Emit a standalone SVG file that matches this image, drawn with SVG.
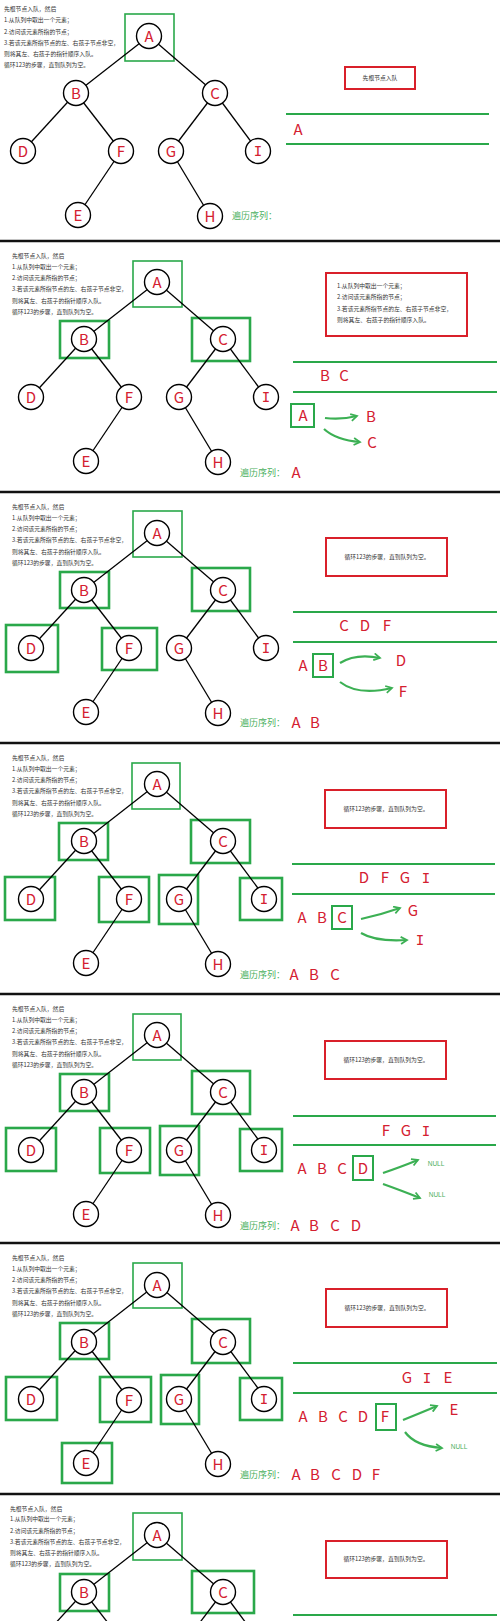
<svg xmlns="http://www.w3.org/2000/svg" width="500" height="1621" viewBox="0 0 500 1621">
<style>
.dv{stroke:#111;stroke-width:2.5}
.e line{stroke:#000;stroke-width:1.3}
.n circle{fill:#fff;stroke:#000;stroke-width:1.4}
.n text,.r{font-family:"Noto Sans CJK SC","Liberation Sans",sans-serif;font-size:15px;fill:#d42030;text-anchor:middle}
.n text.i,.r.i{font-family:"DejaVu Sans Mono",monospace;font-size:14px}
.gb{fill:none;stroke:#2aa84a;stroke-width:2.6}
.ga{fill:none;stroke:#2aa84a;stroke-width:1.6}
.q{stroke:#2aa84a;stroke-width:2}
.rb{fill:none;stroke:#d9202a;stroke-width:2}
.t{font-family:"Noto Sans CJK SC",sans-serif;font-size:5.8px;fill:#333}
.tc{font-family:"Noto Sans CJK SC",sans-serif;font-size:5.8px;fill:#333;text-anchor:middle}
.sq{font-family:"Noto Sans CJK SC",sans-serif;font-size:9px;fill:#4cb060}
.nl{font-family:"Liberation Sans",sans-serif;font-size:6.5px;fill:#4cb060;text-anchor:middle}
.ar{fill:none;stroke:#3cb054;stroke-width:2.2;marker-end:url(#ah)}
</style>
<defs>
<marker id="ah" viewBox="0 0 10 10" refX="8" refY="5" markerWidth="4" markerHeight="4" orient="auto" markerUnits="strokeWidth"><path d="M1,1 L8,5 L1,9" fill="none" stroke="#3cb054" stroke-width="2"/></marker>
</defs>
<rect width="500" height="1621" fill="#fff"/>
<g id="dividers">
<line class="dv" x1="0" y1="241" x2="500" y2="241"/>
<line class="dv" x1="0" y1="492" x2="500" y2="492"/>
<line class="dv" x1="0" y1="743" x2="500" y2="743"/>
<line class="dv" x1="0" y1="994" x2="500" y2="994"/>
<line class="dv" x1="0" y1="1243" x2="500" y2="1243"/>
<line class="dv" x1="0" y1="1494" x2="500" y2="1494"/>
</g>

<!-- Panel 1 -->
<g id="p1" transform="translate(-8,-5)">
<g class="t"><text x="12" y="16">先根节点入队，然后</text><text x="12" y="27">1.从队列中取出一个元素；</text><text x="12" y="39">2.访问该元素所指的节点；</text><text x="12" y="50">3.若该元素所指节点的左、右孩子节点非空，</text><text x="12" y="61">则将其左、右孩子的指针顺序入队。</text><text x="12" y="72">循环123的步骤，直到队列为空。</text></g>
<rect class="ga" x="133" y="19" width="49" height="47"/>
<g id="p1-edges" class="e"><line x1="157" y1="41" x2="84" y2="98"/><line x1="157" y1="41" x2="223" y2="98"/><line x1="84" y1="98" x2="31" y2="156"/><line x1="84" y1="98" x2="129" y2="156"/><line x1="223" y1="98" x2="179" y2="156"/><line x1="223" y1="98" x2="266" y2="156"/><line x1="129" y1="156" x2="86" y2="220"/><line x1="179" y1="156" x2="218" y2="221"/></g>
<g id="p1-A" class="n"><circle cx="157" cy="41" r="12.5"/><text x="157" y="46.5">A</text></g>
<g id="p1-B" class="n"><circle cx="84" cy="98" r="12.5"/><text x="84" y="103.5">B</text></g>
<g id="p1-C" class="n"><circle cx="223" cy="98" r="12.5"/><text x="223" y="103.5">C</text></g>
<g id="p1-D" class="n"><circle cx="31" cy="156" r="12.5"/><text x="31" y="161.5">D</text></g>
<g id="p1-F" class="n"><circle cx="129" cy="156" r="12.5"/><text x="129" y="161.5">F</text></g>
<g id="p1-G" class="n"><circle cx="179" cy="156" r="12.5"/><text x="179" y="161.5">G</text></g>
<g id="p1-I" class="n"><circle cx="266" cy="156" r="12.5"/><text class="i" x="266" y="161">I</text></g>
<g id="p1-E" class="n"><circle cx="86" cy="220" r="12.5"/><text x="86" y="225.5">E</text></g>
<g id="p1-H" class="n"><circle cx="218" cy="221" r="12.5"/><text x="218" y="226.5">H</text></g>
</g>
<g id="p1-right">
<rect class="rb" x="345" y="67" width="70" height="22"/>
<text class="tc" x="380" y="80">先根节点入队</text>
<line class="q" x1="286" y1="114" x2="489" y2="114"/><line class="q" x1="286" y1="144" x2="489" y2="144"/>
<text class="r" x="298" y="135">A</text>
<text class="sq" x="232" y="219">遍历序列：</text>
</g>

<!-- Panel 2 -->
<g id="p2" transform="translate(0,241)">
<g class="t"><text x="12" y="17">先根节点入队，然后</text><text x="12" y="28">1.从队列中取出一个元素；</text><text x="12" y="39">2.访问该元素所指的节点；</text><text x="12" y="50">3.若该元素所指节点的左、右孩子节点非空，</text><text x="12" y="62">则将其左、右孩子的指针顺序入队。</text><text x="12" y="73">循环123的步骤，直到队列为空。</text></g>
<rect class="ga" x="133" y="20" width="49" height="46"/>
<rect class="gb" x="60" y="80" width="49" height="37"/>
<rect class="gb" x="192" y="77" width="58" height="43"/>
<g id="p2-edges" class="e"><line x1="157" y1="41" x2="84" y2="98"/><line x1="157" y1="41" x2="223" y2="98"/><line x1="84" y1="98" x2="31" y2="156"/><line x1="84" y1="98" x2="129" y2="156"/><line x1="223" y1="98" x2="179" y2="156"/><line x1="223" y1="98" x2="266" y2="156"/><line x1="129" y1="156" x2="86" y2="220"/><line x1="179" y1="156" x2="218" y2="221"/></g>
<g id="p2-A" class="n"><circle cx="157" cy="41" r="12.5"/><text x="157" y="46.5">A</text></g>
<g id="p2-B" class="n"><circle cx="84" cy="98" r="12.5"/><text x="84" y="103.5">B</text></g>
<g id="p2-C" class="n"><circle cx="223" cy="98" r="12.5"/><text x="223" y="103.5">C</text></g>
<g id="p2-D" class="n"><circle cx="31" cy="156" r="12.5"/><text x="31" y="161.5">D</text></g>
<g id="p2-F" class="n"><circle cx="129" cy="156" r="12.5"/><text x="129" y="161.5">F</text></g>
<g id="p2-G" class="n"><circle cx="179" cy="156" r="12.5"/><text x="179" y="161.5">G</text></g>
<g id="p2-I" class="n"><circle cx="266" cy="156" r="12.5"/><text class="i" x="266" y="161">I</text></g>
<g id="p2-E" class="n"><circle cx="86" cy="220" r="12.5"/><text x="86" y="225.5">E</text></g>
<g id="p2-H" class="n"><circle cx="218" cy="221" r="12.5"/><text x="218" y="226.5">H</text></g>
</g>
<g id="p2-right">
<rect class="rb" x="326" y="273" width="141" height="63"/>
<g class="t"><text x="337" y="288">1.从队列中取出一个元素；</text><text x="337" y="299">2.访问该元素所指的节点；</text><text x="337" y="311">3.若该元素所指节点的左、右孩子节点非空，</text><text x="337" y="322">则将其左、右孩子的指针顺序入队。</text></g>
<line class="q" x1="293" y1="362" x2="497" y2="362"/><line class="q" x1="293" y1="392" x2="497" y2="392"/>
<text class="r" x="325" y="381">B</text><text class="r" x="344" y="381">C</text>
<rect class="ga" x="291" y="404" width="23" height="23" style="stroke-width:2"/>
<text class="r" x="303" y="421">A</text>
<path class="ar" d="M325,418 Q341,420 357,416"/>
<path class="ar" d="M324,429 Q336,440 360,442"/>
<text class="r" x="371" y="422">B</text><text class="r" x="372" y="448">C</text>
<text class="sq" x="240" y="476">遍历序列：</text>
<text class="r" x="296" y="478">A</text>
</g>

<!-- Panel 3 -->
<g id="p3" transform="translate(0,492)">
<g class="t"><text x="12" y="17">先根节点入队，然后</text><text x="12" y="28">1.从队列中取出一个元素；</text><text x="12" y="39">2.访问该元素所指的节点；</text><text x="12" y="50">3.若该元素所指节点的左、右孩子节点非空，</text><text x="12" y="62">则将其左、右孩子的指针顺序入队。</text><text x="12" y="73">循环123的步骤，直到队列为空。</text></g>
<rect class="ga" x="133" y="19" width="49" height="46"/>
<rect class="gb" x="60" y="80" width="49" height="36"/>
<rect class="gb" x="192" y="76" width="58" height="43"/>
<rect class="gb" x="6" y="133" width="52" height="47"/>
<rect class="gb" x="102" y="136" width="55" height="42"/>
<g id="p3-edges" class="e"><line x1="157" y1="41" x2="84" y2="98"/><line x1="157" y1="41" x2="223" y2="98"/><line x1="84" y1="98" x2="31" y2="156"/><line x1="84" y1="98" x2="129" y2="156"/><line x1="223" y1="98" x2="179" y2="156"/><line x1="223" y1="98" x2="266" y2="156"/><line x1="129" y1="156" x2="86" y2="220"/><line x1="179" y1="156" x2="218" y2="221"/></g>
<g id="p3-A" class="n"><circle cx="157" cy="41" r="12.5"/><text x="157" y="46.5">A</text></g>
<g id="p3-B" class="n"><circle cx="84" cy="98" r="12.5"/><text x="84" y="103.5">B</text></g>
<g id="p3-C" class="n"><circle cx="223" cy="98" r="12.5"/><text x="223" y="103.5">C</text></g>
<g id="p3-D" class="n"><circle cx="31" cy="156" r="12.5"/><text x="31" y="161.5">D</text></g>
<g id="p3-F" class="n"><circle cx="129" cy="156" r="12.5"/><text x="129" y="161.5">F</text></g>
<g id="p3-G" class="n"><circle cx="179" cy="156" r="12.5"/><text x="179" y="161.5">G</text></g>
<g id="p3-I" class="n"><circle cx="266" cy="156" r="12.5"/><text class="i" x="266" y="161">I</text></g>
<g id="p3-E" class="n"><circle cx="86" cy="220" r="12.5"/><text x="86" y="225.5">E</text></g>
<g id="p3-H" class="n"><circle cx="218" cy="221" r="12.5"/><text x="218" y="226.5">H</text></g>
</g>
<g id="p3-right">
<rect class="rb" x="326" y="538" width="121" height="38"/>
<text class="tc" x="387" y="559">循环123的步骤，直到队列为空。</text>
<line class="q" x1="293" y1="612" x2="497" y2="612"/><line class="q" x1="293" y1="642" x2="497" y2="642"/>
<text class="r" x="344" y="631">C</text><text class="r" x="365" y="631">D</text><text class="r" x="387" y="631">F</text>
<text class="r" x="303" y="671">A</text>
<rect class="ga" x="313" y="654" width="20" height="23" style="stroke-width:2"/>
<text class="r" x="323" y="671">B</text>
<path class="ar" d="M340,663 Q356,653 380,658"/>
<path class="ar" d="M340,682 Q358,696 392,688"/>
<text class="r" x="401" y="666">D</text><text class="r" x="403" y="697">F</text>
<text class="sq" x="240" y="726">遍历序列：</text>
<text class="r" x="296" y="728">A</text><text class="r" x="315" y="728">B</text>
</g>

<!-- Panel 4 -->
<g id="p4" transform="translate(0,743)">
<g class="t"><text x="12" y="17">先根节点入队，然后</text><text x="12" y="28">1.从队列中取出一个元素；</text><text x="12" y="39">2.访问该元素所指的节点；</text><text x="12" y="50">3.若该元素所指节点的左、右孩子节点非空，</text><text x="12" y="62">则将其左、右孩子的指针顺序入队。</text><text x="12" y="73">循环123的步骤，直到队列为空。</text></g>
<rect class="ga" x="132" y="20" width="48" height="46"/>
<rect class="gb" x="59" y="80" width="49" height="37"/>
<rect class="gb" x="191" y="77" width="59" height="43"/>
<rect class="gb" x="5" y="134" width="50" height="43"/>
<rect class="gb" x="99" y="134" width="50" height="45"/>
<rect class="gb" x="159" y="132" width="39" height="49"/>
<rect class="gb" x="240" y="135" width="42" height="42"/>
<g id="p4-edges" class="e"><line x1="157" y1="41" x2="84" y2="98"/><line x1="157" y1="41" x2="223" y2="98"/><line x1="84" y1="98" x2="31" y2="156"/><line x1="84" y1="98" x2="129" y2="156"/><line x1="223" y1="98" x2="179" y2="156"/><line x1="223" y1="98" x2="266" y2="156"/><line x1="129" y1="156" x2="86" y2="220"/><line x1="179" y1="156" x2="218" y2="221"/></g>
<g id="p4-A" class="n"><circle cx="157" cy="41" r="12.5"/><text x="157" y="46.5">A</text></g>
<g id="p4-B" class="n"><circle cx="84" cy="98" r="12.5"/><text x="84" y="103.5">B</text></g>
<g id="p4-C" class="n"><circle cx="223" cy="98" r="12.5"/><text x="223" y="103.5">C</text></g>
<g id="p4-D" class="n"><circle cx="31" cy="156" r="12.5"/><text x="31" y="161.5">D</text></g>
<g id="p4-F" class="n"><circle cx="129" cy="156" r="12.5"/><text x="129" y="161.5">F</text></g>
<g id="p4-G" class="n"><circle cx="179" cy="156" r="12.5"/><text x="179" y="161.5">G</text></g>
<g id="p4-I" class="n"><circle cx="264" cy="156" r="12.5"/><text class="i" x="264" y="161">I</text></g>
<g id="p4-E" class="n"><circle cx="86" cy="220" r="12.5"/><text x="86" y="225.5">E</text></g>
<g id="p4-H" class="n"><circle cx="218" cy="221" r="12.5"/><text x="218" y="226.5">H</text></g>
</g>
<g id="p4-right">
<rect class="rb" x="325" y="790" width="121" height="38"/>
<text class="tc" x="386" y="811">循环123的步骤，直到队列为空。</text>
<line class="q" x1="292" y1="864" x2="495" y2="864"/><line class="q" x1="292" y1="894" x2="495" y2="894"/>
<text class="r" x="364" y="883">D</text><text class="r" x="385" y="883">F</text><text class="r" x="405" y="883">G</text><text class="r i" x="426" y="883">I</text>
<text class="r" x="302" y="923">A</text><text class="r" x="322" y="923">B</text>
<rect class="ga" x="332" y="906" width="20" height="23" style="stroke-width:2"/>
<text class="r" x="342" y="923">C</text>
<path class="ar" d="M361,919 Q380,915 400,908"/>
<path class="ar" d="M361,933 Q376,942 407,940"/>
<text class="r" x="413" y="916">G</text><text class="r i" x="420" y="945">I</text>
<text class="sq" x="240" y="978">遍历序列：</text>
<text class="r" x="294" y="980">A</text><text class="r" x="314" y="980">B</text><text class="r" x="335" y="980">C</text>
</g>

<!-- Panel 5 -->
<g id="p5" transform="translate(0,994)">
<g class="t"><text x="12" y="17">先根节点入队，然后</text><text x="12" y="28">1.从队列中取出一个元素；</text><text x="12" y="39">2.访问该元素所指的节点；</text><text x="12" y="50">3.若该元素所指节点的左、右孩子节点非空，</text><text x="12" y="62">则将其左、右孩子的指针顺序入队。</text><text x="12" y="73">循环123的步骤，直到队列为空。</text></g>
<rect class="ga" x="133" y="20" width="48" height="46"/>
<rect class="gb" x="60" y="80" width="49" height="37"/>
<rect class="gb" x="192" y="77" width="58" height="43"/>
<rect class="gb" x="6" y="134" width="50" height="43"/>
<rect class="gb" x="100" y="134" width="50" height="45"/>
<rect class="gb" x="160" y="132" width="39" height="49"/>
<rect class="gb" x="240" y="135" width="42" height="42"/>
<g id="p5-edges" class="e"><line x1="157" y1="41" x2="84" y2="98"/><line x1="157" y1="41" x2="223" y2="98"/><line x1="84" y1="98" x2="31" y2="156"/><line x1="84" y1="98" x2="129" y2="156"/><line x1="223" y1="98" x2="179" y2="156"/><line x1="223" y1="98" x2="266" y2="156"/><line x1="129" y1="156" x2="86" y2="220"/><line x1="179" y1="156" x2="218" y2="221"/></g>
<g id="p5-A" class="n"><circle cx="157" cy="41" r="12.5"/><text x="157" y="46.5">A</text></g>
<g id="p5-B" class="n"><circle cx="84" cy="98" r="12.5"/><text x="84" y="103.5">B</text></g>
<g id="p5-C" class="n"><circle cx="223" cy="98" r="12.5"/><text x="223" y="103.5">C</text></g>
<g id="p5-D" class="n"><circle cx="31" cy="156" r="12.5"/><text x="31" y="161.5">D</text></g>
<g id="p5-F" class="n"><circle cx="129" cy="156" r="12.5"/><text x="129" y="161.5">F</text></g>
<g id="p5-G" class="n"><circle cx="179" cy="156" r="12.5"/><text x="179" y="161.5">G</text></g>
<g id="p5-I" class="n"><circle cx="264" cy="156" r="12.5"/><text class="i" x="264" y="161">I</text></g>
<g id="p5-E" class="n"><circle cx="86" cy="220" r="12.5"/><text x="86" y="225.5">E</text></g>
<g id="p5-H" class="n"><circle cx="218" cy="221" r="12.5"/><text x="218" y="226.5">H</text></g>
</g>
<g id="p5-right">
<rect class="rb" x="325" y="1041" width="121" height="38"/>
<text class="tc" x="386" y="1062">循环123的步骤，直到队列为空。</text>
<line class="q" x1="293" y1="1116" x2="496" y2="1116"/><line class="q" x1="293" y1="1145" x2="496" y2="1145"/>
<text class="r" x="386" y="1136">F</text><text class="r" x="406" y="1136">G</text><text class="r i" x="426" y="1136">I</text>
<text class="r" x="302" y="1174">A</text><text class="r" x="322" y="1174">B</text><text class="r" x="342" y="1174">C</text>
<rect class="ga" x="353" y="1156" width="20" height="24" style="stroke-width:2"/>
<text class="r" x="363" y="1174">D</text>
<path class="ar" d="M383,1173 Q398,1168 418,1160"/>
<path class="ar" d="M383,1184 Q400,1190 420,1198"/>
<text class="nl" x="436" y="1166">NULL</text><text class="nl" x="437" y="1197">NULL</text>
<text class="sq" x="240" y="1229">遍历序列：</text>
<text class="r" x="295" y="1231">A</text><text class="r" x="314" y="1231">B</text><text class="r" x="335" y="1231">C</text><text class="r" x="356" y="1231">D</text>
</g>

<!-- Panel 6 -->
<g id="p6" transform="translate(0,1243)">
<g class="t"><text x="12" y="17">先根节点入队，然后</text><text x="12" y="28">1.从队列中取出一个元素；</text><text x="12" y="39">2.访问该元素所指的节点；</text><text x="12" y="50">3.若该元素所指节点的左、右孩子节点非空，</text><text x="12" y="62">则将其左、右孩子的指针顺序入队。</text><text x="12" y="73">循环123的步骤，直到队列为空。</text></g>
<rect class="ga" x="133" y="20" width="49" height="45"/>
<rect class="gb" x="60" y="80" width="49" height="36"/>
<rect class="gb" x="192" y="76" width="58" height="44"/>
<rect class="gb" x="6" y="134" width="51" height="43"/>
<rect class="gb" x="100" y="134" width="51" height="45"/>
<rect class="gb" x="161" y="132" width="38" height="49"/>
<rect class="gb" x="240" y="135" width="42" height="42"/>
<rect class="gb" x="62" y="200" width="50" height="40"/>
<g id="p6-edges" class="e"><line x1="157" y1="41" x2="84" y2="98"/><line x1="157" y1="41" x2="223" y2="98"/><line x1="84" y1="98" x2="31" y2="156"/><line x1="84" y1="98" x2="129" y2="156"/><line x1="223" y1="98" x2="179" y2="156"/><line x1="223" y1="98" x2="266" y2="156"/><line x1="129" y1="156" x2="86" y2="220"/><line x1="179" y1="156" x2="218" y2="221"/></g>
<g id="p6-A" class="n"><circle cx="157" cy="42" r="12.5"/><text x="157" y="47.5">A</text></g>
<g id="p6-B" class="n"><circle cx="84" cy="99" r="12.5"/><text x="84" y="104.5">B</text></g>
<g id="p6-C" class="n"><circle cx="223" cy="99" r="12.5"/><text x="223" y="104.5">C</text></g>
<g id="p6-D" class="n"><circle cx="31" cy="156" r="12.5"/><text x="31" y="161.5">D</text></g>
<g id="p6-F" class="n"><circle cx="129" cy="157" r="12.5"/><text x="129" y="162.5">F</text></g>
<g id="p6-G" class="n"><circle cx="179" cy="156" r="12.5"/><text x="179" y="161.5">G</text></g>
<g id="p6-I" class="n"><circle cx="264" cy="156" r="12.5"/><text class="i" x="264" y="161">I</text></g>
<g id="p6-E" class="n"><circle cx="86" cy="220" r="12.5"/><text x="86" y="225.5">E</text></g>
<g id="p6-H" class="n"><circle cx="218" cy="221" r="12.5"/><text x="218" y="226.5">H</text></g>
</g>
<g id="p6-right">
<rect class="rb" x="326" y="1289" width="121" height="38"/>
<text class="tc" x="387" y="1310">循环123的步骤，直到队列为空。</text>
<line class="q" x1="293" y1="1363" x2="497" y2="1363"/><line class="q" x1="293" y1="1393" x2="497" y2="1393"/>
<text class="r" x="407" y="1383">G</text><text class="r i" x="427" y="1383">I</text><text class="r" x="448" y="1383">E</text>
<text class="r" x="303" y="1422">A</text><text class="r" x="323" y="1422">B</text><text class="r" x="343" y="1422">C</text><text class="r" x="363" y="1422">D</text>
<rect class="ga" x="376" y="1404" width="20" height="26" style="stroke-width:2"/>
<text class="r" x="385" y="1422">F</text>
<path class="ar" d="M403,1420 Q418,1414 437,1406"/>
<path class="ar" d="M405,1432 Q415,1446 442,1448"/>
<text class="r" x="454" y="1415">E</text><text class="nl" x="459" y="1449">NULL</text>
<text class="sq" x="240" y="1478">遍历序列：</text>
<text class="r" x="296" y="1480">A</text><text class="r" x="315" y="1480">B</text><text class="r" x="336" y="1480">C</text><text class="r" x="357" y="1480">D</text><text class="r" x="376" y="1480">F</text>
</g>

<!-- Panel 7 -->
<g id="p7" transform="translate(0,1494)">
<g class="t"><text x="10" y="17">先根节点入队，然后</text><text x="10" y="27">1.从队列中取出一个元素；</text><text x="10" y="39">2.访问该元素所指的节点；</text><text x="10" y="50">3.若该元素所指节点的左、右孩子节点非空，</text><text x="10" y="61">则将其左、右孩子的指针顺序入队。</text><text x="10" y="72">循环123的步骤，直到队列为空。</text></g>
<rect class="ga" x="133" y="19" width="49" height="47"/>
<rect class="gb" x="60" y="80" width="49" height="37"/>
<rect class="gb" x="192" y="77" width="62" height="42"/>
<g id="p7-edges" class="e"><line x1="157" y1="41" x2="84" y2="98"/><line x1="157" y1="41" x2="223" y2="98"/><line x1="84" y1="98" x2="31" y2="156"/><line x1="84" y1="98" x2="129" y2="156"/><line x1="223" y1="98" x2="179" y2="156"/><line x1="223" y1="98" x2="266" y2="156"/></g>
<g id="p7-A" class="n"><circle cx="157" cy="41" r="12.5"/><text x="157" y="46.5">A</text></g>
<g id="p7-B" class="n"><circle cx="84" cy="98" r="12.5"/><text x="84" y="103.5">B</text></g>
<g id="p7-C" class="n"><circle cx="223" cy="98" r="12.5"/><text x="223" y="103.5">C</text></g>
</g>
<g id="p7-right">
<rect class="rb" x="326" y="1541" width="121" height="37"/>
<text class="tc" x="386" y="1561">循环123的步骤，直到队列为空。</text>
<line class="q" x1="293" y1="1615" x2="497" y2="1615"/>
</g>
</svg>
